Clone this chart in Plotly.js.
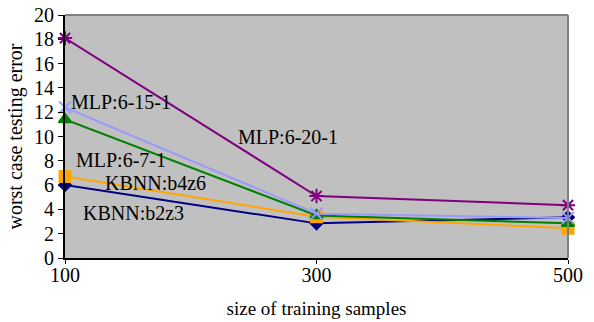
<!DOCTYPE html>
<html>
<head>
<meta charset="utf-8">
<script src="https://cdn.plot.ly/plotly-3.0.1.min.js"></script>
<style>html,body{margin:0;padding:0;background:#fff;}#chart{width:594px;height:322px;}</style>
</head>
<body>
<div id="chart"></div>
<script>
const sampleSizes = [100, 300, 500];
const seriesNames = ["KBNN:b2z3", "KBNN:b4z6", "MLP:6-7-1", "MLP:6-15-1", "MLP:6-20-1"];
const kbnnB2z3 = [6.0, 2.85, 3.35];
const kbnnB4z6 = [6.7, 3.4, 2.45];
const mlp671 = [11.4, 3.5, 2.85];
const mlp6151 = [12.4, 3.65, 3.3];
const mlp6201 = [18.1, 5.1, 4.35];
const yTicks = [0, 2, 4, 6, 8, 10, 12, 14, 16, 18, 20];
const xTicks = [100, 300, 500];
const labelX = [113, 130, 107.5, 103.5, 236];
const labelY = [3.7, 6.17, 8.07, 12.84, 9.96];

const seriesValues = [kbnnB2z3, kbnnB4z6, mlp671, mlp6151, mlp6201];
const colors = ["#000080", "#ffa500", "#008000", "#9999ff", "#800080"];
const symbols = ["diamond", "square", "triangle-up", "x-thin-open", "asterisk-open"];
const sizes = [9, 11, 11, 12, 12];

const font = "Liberation Serif, Times New Roman, serif";
const traces = seriesValues.map((vals, i) => ({
  x: sampleSizes, y: vals, type: "scatter", mode: "lines+markers",
  name: seriesNames[i], cliponaxis: false,
  line: {color: colors[i], width: 2},
  marker: {symbol: symbols[i], size: sizes[i], color: colors[i], line: {color: colors[i], width: 2}}
}));

const annotations = seriesNames.map((n, i) => ({
  x: labelX[i], y: labelY[i], xref: "x", yref: "y", text: n, showarrow: false,
  xanchor: "left", yanchor: "middle", font: {family: font, size: 20, color: "#000"}
}));

const layout = {
  width: 594, height: 322,
  margin: {l: 65, r: 26, t: 15, b: 64},
  paper_bgcolor: "#ffffff", plot_bgcolor: "#c0c0c0",
  showlegend: false,
  font: {family: font, size: 20, color: "#000"},
  xaxis: {
    range: [100, 500], tickvals: xTicks, ticktext: xTicks.map(String),
    showgrid: false, zeroline: false, showline: true, linecolor: "#000", linewidth: 2,
    ticks: "outside", ticklen: 4, tickcolor: "#000", tickwidth: 1,
    ticklabelstandoff: -6,
    title: {text: "size of training samples", font: {family: font, size: 19}, standoff: 17}
  },
  yaxis: {
    range: [0, 20], tickvals: yTicks, ticktext: yTicks.map(String),
    showgrid: false, zeroline: false, showline: true, linecolor: "#000", linewidth: 2,
    ticks: "outside", ticklen: 5, tickcolor: "#000", tickwidth: 1,
    title: {text: "worst case testing error", font: {family: font, size: 20}, standoff: 6}
  },
  shapes: [
    {type: "line", xref: "paper", yref: "paper", x0: 0, x1: 1, y0: 1, y1: 1, line: {color: "#808080", width: 2}},
    {type: "line", xref: "paper", yref: "paper", x0: 1, x1: 1, y0: 0, y1: 1, line: {color: "#808080", width: 2}}
  ],
  annotations: annotations
};

Plotly.newPlot("chart", traces, layout, {displayModeBar: false, staticPlot: true});
</script>
</body>
</html>
